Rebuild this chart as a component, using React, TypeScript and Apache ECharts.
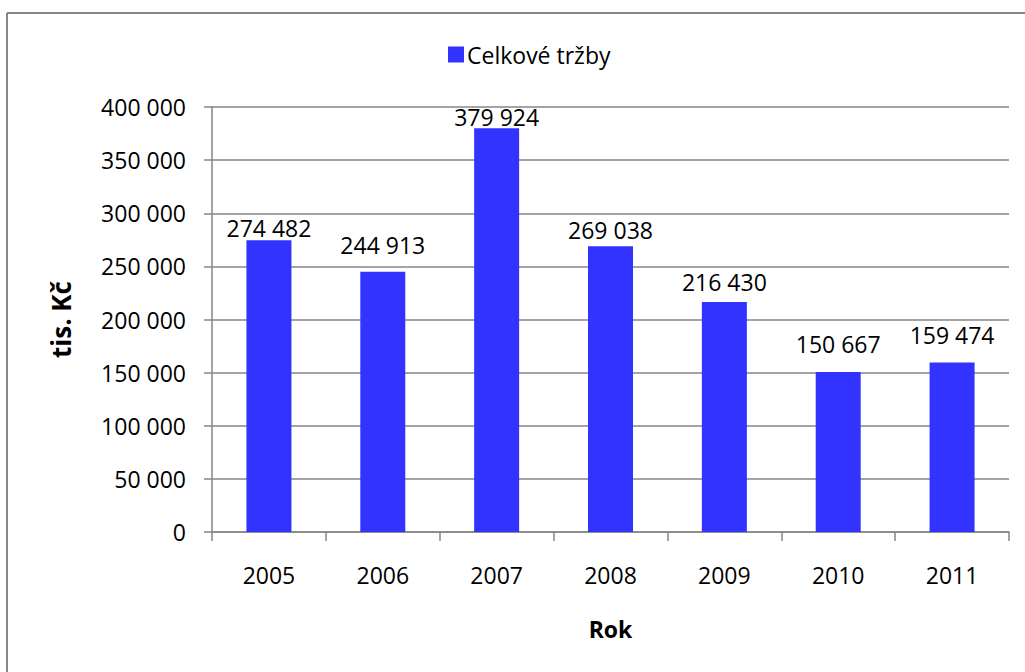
import React, { useEffect, useRef } from "react";
import * as echarts from "echarts";

const years = ["2005", "2006", "2007", "2008", "2009", "2010", "2011"];
const revenue = [274482, 244913, 379924, 269038, 216430, 150667, 159474];
const seriesName = "Celkové tržby";
const yAxisTitle = "tis. Kč";
const xAxisTitle = "Rok";

// label offsets above each bar (style only, as placed in the original)
const labelDistances = [1, 15, 0, 5, 9, 16, 16];

const fmt = (v: number) => String(v).replace(/\B(?=(\d{3})+(?!\d))/g, " ");

const FONT = "'Open Sans', 'Noto Sans', sans-serif";
const GRAY = "#868686";
const FS = 23;

export default function App() {
  const ref = useRef<HTMLDivElement>(null);
  useEffect(() => {
    if (!ref.current) return;
    const chart = echarts.init(ref.current, undefined, { renderer: "svg" });
    chart.setOption({
      animation: false,
      backgroundColor: "#ffffff",
      textStyle: { fontFamily: FONT },
      graphic: [
        { type: "line", shape: { x1: 7, y1: 13, x2: 1025, y2: 13 }, style: { stroke: GRAY, lineWidth: 2 } },
        { type: "line", shape: { x1: 7, y1: 13, x2: 7, y2: 672 }, style: { stroke: GRAY, lineWidth: 2 } },
      ],
      legend: {
        top: 38,
        left: 443,
        itemWidth: 16,
        itemHeight: 16,
        icon: "rect",
        textStyle: { fontSize: FS, color: "#000", fontFamily: FONT, padding: [0, 0, 0, -2] },
        data: [seriesName],
      },
      grid: { left: 212, right: 16, top: 107, bottom: 140 },
      xAxis: {
        type: "category",
        data: years,
        boundaryGap: true,
        name: xAxisTitle,
        nameLocation: "middle",
        nameGap: 85,
        nameTextStyle: { fontSize: FS, fontWeight: "bold", color: "#000", fontFamily: FONT },
        axisLine: { lineStyle: { color: GRAY, width: 1.5 } },
        axisTick: { show: true, alignWithLabel: false, length: 9, lineStyle: { color: GRAY, width: 1.5 } },
        axisLabel: { margin: 31, fontSize: FS, color: "#000", fontFamily: FONT },
      },
      yAxis: {
        type: "value",
        min: 0,
        max: 400000,
        interval: 50000,
        name: yAxisTitle,
        nameLocation: "middle",
        nameGap: 138,
        nameTextStyle: { fontSize: 26, fontWeight: "bold", color: "#000", fontFamily: FONT },
        axisLine: { show: true, lineStyle: { color: GRAY, width: 1.5 } },
        axisTick: { show: true, length: 8, lineStyle: { color: GRAY, width: 1.5 } },
        axisLabel: { margin: 26, fontSize: FS, color: "#000", fontFamily: FONT, formatter: (v: number) => fmt(v) },
        splitLine: { show: true, lineStyle: { color: GRAY, width: 1.5 } },
      },
      series: [
        {
          name: seriesName,
          type: "bar",
          data: revenue.map((v, i) => ({ value: v, label: { distance: labelDistances[i] } })),
          barWidth: 45,
          itemStyle: { color: "#3333ff" },
          label: {
            show: true,
            position: "top",
            distance: 0,
            fontSize: FS,
            color: "#000",
            fontFamily: FONT,
            formatter: (p: any) => fmt(p.value),
          },
        },
      ],
    });
    return () => chart.dispose();
  }, []);
  return <div ref={ref} style={{ position: "fixed", left: 0, top: 0, width: 1025, height: 672 }} />;
}
